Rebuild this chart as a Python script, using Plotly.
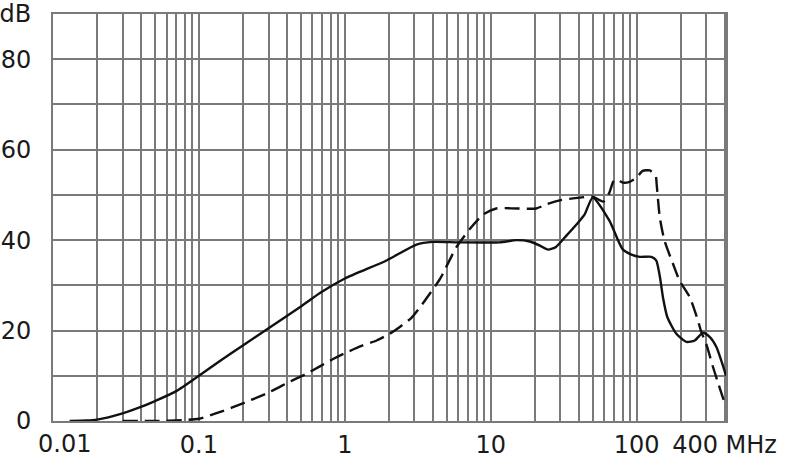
import plotly.graph_objects as go

# Solid curve (MHz, dB)
freq_solid = [0.013, 0.017, 0.02, 0.03, 0.04, 0.05, 0.07, 0.1, 0.14, 0.2, 0.3, 0.5, 0.675,
              1.0, 1.93, 3.1, 4.0, 6.0, 11.5, 15, 18.5, 21.7, 24.7, 28, 33, 40.7, 44, 50,
              65, 80, 92, 105, 126, 136, 144, 152, 162, 187, 219, 250, 284, 316, 351, 410]
db_solid = [0, 0.1, 0.3, 1.7, 3.1, 4.4, 6.6, 10, 13.3, 16.7, 20.5, 25.3, 28.3,
            31.5, 35.5, 39.0, 39.6, 39.5, 39.5, 40.0, 39.7, 38.8, 37.9, 38.5, 41, 44.3, 45.7, 49.4,
            44.3, 38.0, 36.8, 36.3, 36.3, 35.5, 32, 27, 23, 19.3, 17.5, 17.8, 19.5, 18.6, 16.4, 10]

# Dashed curve (MHz, dB)
freq_dashed = [0.03, 0.05, 0.078, 0.1, 0.14, 0.2, 0.3, 0.42, 0.55, 0.83, 1.0, 1.3, 1.65, 2.03,
               2.38, 2.86, 3.3, 4.5, 5.8, 7.2, 8.9, 10.9, 15, 20.5, 24, 29.7, 40.7, 50,
               59, 65, 69, 72.6, 80.5, 89.5, 99.5, 110, 123, 135, 137, 144, 155, 181, 197,
               231, 263, 277, 300, 333, 401]
db_dashed = [0, 0, 0.2, 0.5, 2.0, 3.9, 6.3, 8.7, 10.5, 13.7, 15.0, 16.6, 17.8, 19.3,
             20.8, 22.8, 25.3, 31.5, 38.4, 42.5, 45.7, 47, 47, 47, 47.9, 48.8, 49.4, 49.6,
             48.5, 50.5, 52.9, 53.5, 52.7, 52.9, 53.8, 55.3, 55.4, 54.2, 52.4, 45, 39.9, 34, 31,
             27.4, 22.2, 19.7, 17, 12, 3.9]

# Gridlines / tick labels
x_grid = [m * 10 ** e for e in (-2, -1, 0, 1) for m in range(1, 10)] + [100, 200, 300, 400]
x_labels = {0.1: "0.1", 1: "1", 10: "10", 100: "100", 400: "400 MHz"}
first_x_label = "0.01"
y_grid = [0, 10, 20, 30, 40, 50, 60, 70, 80, 90]
y_labels = {0: "0", 20: "20", 40: "40", 60: "60", 80: "80", 90: "dB"}

x_ticktext = [x_labels.get(round(v, 6), "") for v in x_grid]
y_ticktext = [y_labels.get(v, "") for v in y_grid]

fig = go.Figure()
fig.add_trace(go.Scatter(x=freq_solid, y=db_solid, mode="lines",
                         line=dict(color="#111111", width=2.4, shape="spline", smoothing=0.6),
                         showlegend=False, hoverinfo="skip"))
fig.add_trace(go.Scatter(x=freq_dashed, y=db_dashed, mode="lines",
                         line=dict(color="#111111", width=2.4, dash="15px,7px",
                                   shape="spline", smoothing=0.6),
                         showlegend=False, hoverinfo="skip"))

font = dict(family="DejaVu Sans, Arial, sans-serif", size=24, color="#1a1a1a")
grid_col = "#7a7a7a"

fig.update_layout(
    width=790, height=468,
    margin=dict(l=53, r=64, t=14, b=47),
    paper_bgcolor="white", plot_bgcolor="white",
    font=font,
)
fig.update_xaxes(type="log", range=[-2, 2.612], tickvals=x_grid, ticktext=x_ticktext,
                 showgrid=True, gridcolor=grid_col, gridwidth=1.6,
                 showline=True, linecolor=grid_col, linewidth=2, mirror=True,
                 ticks="", ticklabelstandoff=1, zeroline=False, tickfont=font,
                 automargin=False)
fig.update_yaxes(range=[0, 90], tickvals=y_grid, ticktext=y_ticktext,
                 showgrid=True, gridcolor=grid_col, gridwidth=1.6,
                 showline=True, linecolor=grid_col, linewidth=2, mirror=True,
                 ticks="", ticklabelstandoff=15, zeroline=False, tickfont=font,
                 automargin=False)

# first x label sits a little right of its gridline, as in the original
fig.add_annotation(x=-2, y=0, xref="x", yref="paper", text=first_x_label,
                   showarrow=False, xanchor="center", yanchor="top",
                   xshift=11, yshift=-7, font=font)

fig.write_html("out.html", config={"displayModeBar": False},
               post_script="document.body.style.margin='0';document.body.style.overflow='hidden';")
